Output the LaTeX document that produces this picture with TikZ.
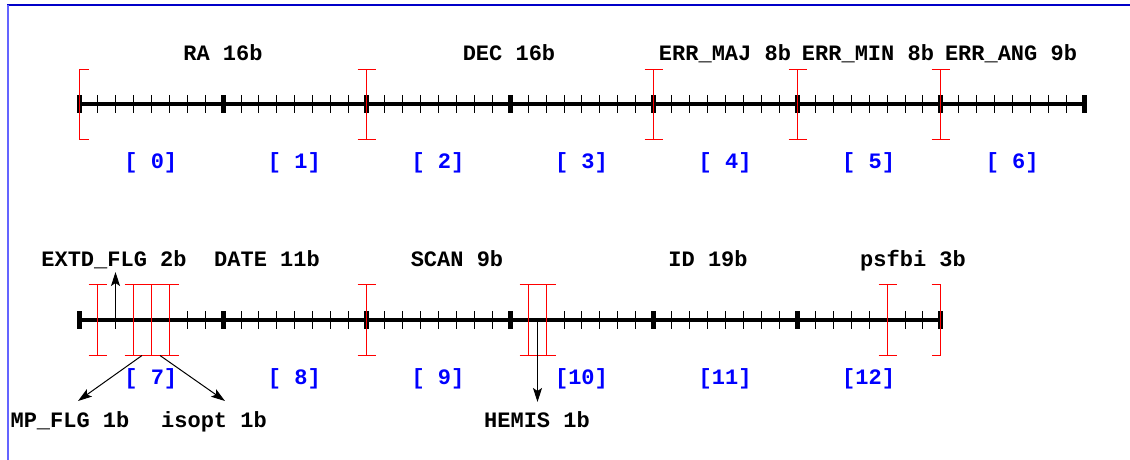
\documentclass[tikz,border=0pt]{standalone}
\usepackage{fontspec}
\setmonofont{Liberation Mono}
\usetikzlibrary{arrows.meta}
\definecolor{mred}{RGB}{255,0,0}
\definecolor{mblue}{RGB}{0,0,255}
\definecolor{frametop}{RGB}{0,0,200}
\definecolor{frameleft}{RGB}{100,100,255}
\begin{document}
\begin{tikzpicture}[x=1pt,y=-1pt,
  lbl/.style={font=\ttfamily\bfseries\fontsize{22}{24}\selectfont, inner sep=0pt, anchor=base, text=black},
  bytelbl/.style={lbl, text=mblue},
  axisline/.style={draw=black, line width=4.5pt},
  minortick/.style={draw=black, line width=1pt},
  redbar/.style={draw=mred, line width=1pt},
  arr/.style={draw=black, line width=1pt, -{Stealth[length=14pt,width=9pt,inset=3pt]}}]
\useasboundingbox (0,0) rectangle (1130,460);
\def\B{17.946}
% frame
\draw[frametop, line width=1.3pt] (7,5) -- (1130,5);
\draw[frameleft, line width=2pt] (7.5,5) -- (7.5,460);

% ---------- top row ----------
\coordinate (ta) at (79,104);
\coordinate (tb) at ({79+56*\B},104);
\draw[axisline] (ta) -- (tb);
\foreach \i in {0,...,56} {
  \pgfmathtruncatemacro\m{mod(\i,8)}
  \pgfmathsetmacro\xx{round(79+\i*\B)+0.5}
  \ifnum\m=0
    \fill[black] (\xx-2.5,95) rectangle ++(5,18);
  \else
    \draw[minortick] (\xx,95) -- ++(0,18);
  \fi
}
% ---------- bottom row ----------
\coordinate (ba) at (79,320);
\coordinate (bb) at ({79+48*\B},320);
\draw[axisline] (ba) -- (bb);
\foreach \i in {0,...,48} {
  \pgfmathtruncatemacro\m{mod(\i,8)}
  \pgfmathsetmacro\xx{round(79+\i*\B)+0.5}
  \ifnum\m=0
    \fill[black] (\xx-2.5,311) rectangle ++(5,18);
  \else
    \draw[minortick] (\xx,311) -- ++(0,18);
  \fi
}

% red markers
\draw[redbar] (88.5,69.5) -- (79.5,69.5) -- (79.5,139.5) -- (88.5,139.5);
\foreach \i in {16,32,40,48} {
  \pgfmathsetmacro\xx{round(79+\i*\B)+0.5}
  \draw[redbar] (\xx-9,69.5) -- (\xx+9,69.5) (\xx,69.5) -- (\xx,139.5) (\xx-9,139.5) -- (\xx+9,139.5);
}
\foreach \i in {1,3,4,5,16,25,26,45} {
  \pgfmathsetmacro\xx{round(79+\i*\B)+0.5}
  \draw[redbar] (\xx-9,284.5) -- (\xx+9,284.5) (\xx,284.5) -- (\xx,355.5) (\xx-9,355.5) -- (\xx+9,355.5);
}
\pgfmathsetmacro\xe{round(79+48*\B)+0.5}
\draw[redbar] (\xe-9,284.5) -- (\xe,284.5) -- (\xe,355.5) -- (\xe-9,355.5);

% top labels
\node[lbl] (ra) at (223,60) {RA 16b};
\node[lbl] (dec) at (509,60) {DEC 16b};
\node[lbl] (emaj) at (725,60) {ERR\_MAJ 8b};
\node[lbl] (emin) at (868,60) {ERR\_MIN 8b};
\node[lbl] (eang) at (1011,60) {ERR\_ANG 9b};
\foreach \k in {0,...,6} {
  \node[bytelbl] (byte\k) at ({79+(8*\k+4)*\B},168) {[ \k]};
}

% bottom labels
\node[lbl] (extd) at (114,266) {EXTD\_FLG 2b};
\node[lbl] (date) at (267,266) {DATE 11b};
\node[lbl] (scan) at (457,266) {SCAN 9b};
\node[lbl] (id) at (708,266) {ID 19b};
\node[lbl] (psf) at (913,266) {psfbi 3b};
\node[bytelbl] (byte7) at ({79+4*\B},384) {[ 7]};
\node[bytelbl] (byte8) at ({79+12*\B},384) {[ 8]};
\node[bytelbl] (byte9) at ({79+20*\B},384) {[ 9]};
\node[bytelbl] (byte10) at ({79+28*\B},384) {[10]};
\node[bytelbl] (byte11) at ({79+36*\B},384) {[11]};
\node[bytelbl] (byte12) at ({79+44*\B},384) {[12]};
\node[lbl] (mpflg) at (70,427) {MP\_FLG 1b};
\node[lbl] (isopt) at (214,427) {isopt 1b};
\node[lbl] (hemis) at (537,427) {HEMIS 1b};

% arrows
\coordinate (extdfrom) at (115.5,320);
\coordinate (extdto) at (115.5,272);
\coordinate (mpfrom) at (142,355.5);
\coordinate (mpto) at (78,401);
\coordinate (isfrom) at (160,355.5);
\coordinate (isto) at (225,401);
\coordinate (hefrom) at (537.5,320);
\coordinate (heto) at (537.5,402);
\draw[arr] (extdfrom) -- (extdto);
\draw[arr] (mpfrom) -- (mpto);
\draw[arr] (isfrom) -- (isto);
\draw[arr] (hefrom) -- (heto);
\end{tikzpicture}
\end{document}
